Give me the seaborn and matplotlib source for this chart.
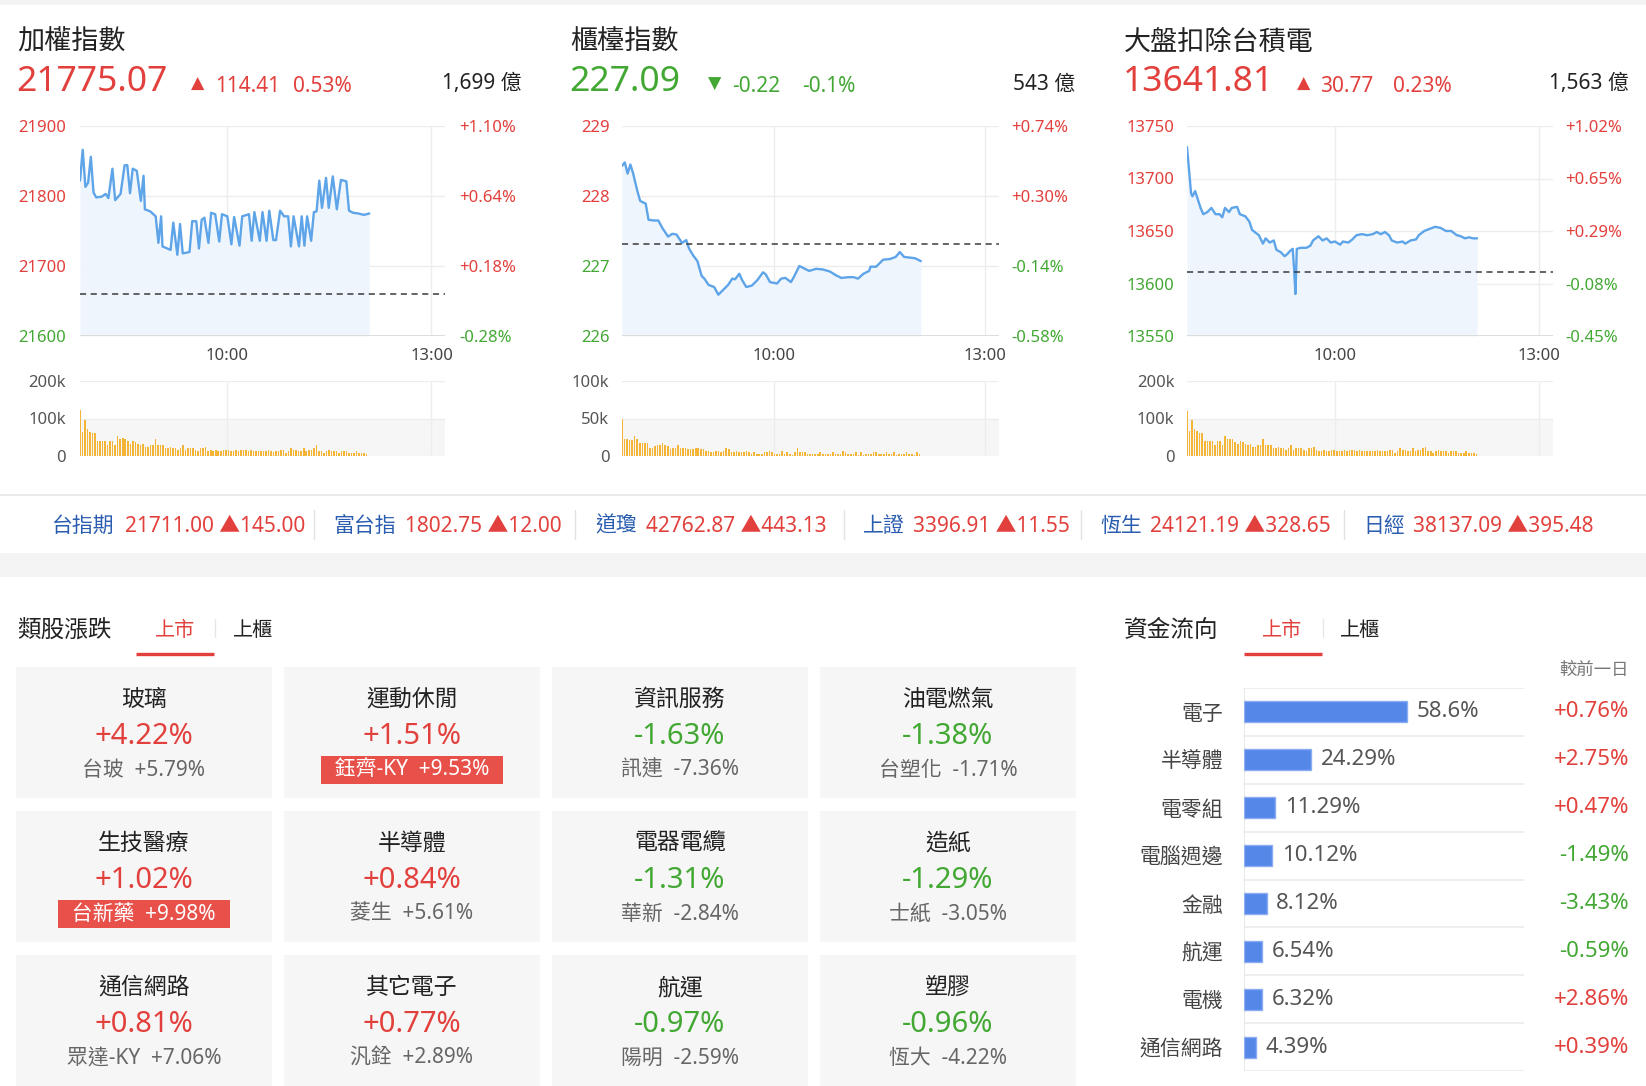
import numpy as np
import pandas as pd
import matplotlib
matplotlib.use('Agg')
import matplotlib.pyplot as plt
import matplotlib.transforms as mtransforms
from matplotlib.patches import Rectangle
import seaborn as sns

# ---------------- DATA ----------------
index_names = ['加權指數', '櫃檯指數', '大盤扣除台積電']
index_values = ['21775.07', '227.09', '13641.81']
index_change = ['114.41', '-0.22', '30.77']
index_pct = ['0.53%', '-0.1%', '0.23%']
index_turnover = ['1,699 億', '543 億', '1,563 億']
index_up = [True, False, True]
prev_close = [21660.66, 227.31, 13611.04]

time_labels = ['10:00', '13:00']

twii_yticks = [21600, 21700, 21800, 21900]
otc_yticks = [226, 227, 228, 229]
ex_yticks = [13550, 13600, 13650, 13700, 13750]

twii_t = [0, 2, 4, 6, 8, 10, 12, 16, 19, 21, 24, 26, 30, 33, 35, 37, 39, 42, 45, 47,
          48, 52, 56, 58, 60, 61, 67, 69, 72, 74, 76, 81, 83, 86, 88, 90, 92, 95, 97, 100,
          103, 105, 109, 112, 114, 118, 120, 125, 127, 129, 133, 135, 138, 140, 143, 145, 148, 151, 154, 156,
          158, 162, 164, 166, 168, 171, 173, 175, 177, 179, 182, 184, 187, 190, 193, 197, 199, 202, 206, 210, 214]
twii_v = [21822, 21866, 21813, 21819, 21856, 21805, 21798, 21799, 21803, 21797, 21839, 21794, 21803, 21844, 21844, 21804, 21839, 21836, 21793, 21829,
          21781, 21778, 21771, 21733, 21771, 21728, 21723, 21762, 21716, 21760, 21718, 21720, 21764, 21764, 21725, 21766, 21769, 21733, 21776, 21774,
          21735, 21774, 21771, 21731, 21770, 21729, 21771, 21774, 21736, 21777, 21736, 21777, 21736, 21779, 21737, 21737, 21779, 21771, 21771, 21728,
          21771, 21728, 21771, 21729, 21771, 21736, 21777, 21778, 21822, 21783, 21826, 21783, 21828, 21781, 21823, 21821, 21779, 21776, 21775, 21773, 21775]

otc_t = [0, 2, 4, 6, 8, 11, 13, 17, 19, 23, 26, 29, 33, 36, 39, 43, 46, 48, 51, 54,
         57, 59, 62, 66, 69, 73, 76, 79, 81, 84, 86, 89, 93, 97, 101, 103, 106, 111, 114, 117,
         121, 123, 127, 131, 134, 139, 144, 149, 153, 157, 162, 166, 169, 173, 177, 178, 182, 187, 192, 196,
         199, 202, 206, 210, 214]
otc_v = [228.43, 228.48, 228.32, 228.45, 228.32, 228.07, 227.93, 227.89, 227.66, 227.65, 227.65, 227.54, 227.42, 227.46, 227.45, 227.33, 227.37, 227.25, 227.15, 227.07,
         226.86, 226.82, 226.73, 226.70, 226.59, 226.67, 226.73, 226.82, 226.81, 226.89, 226.80, 226.70, 226.72, 226.80, 226.91, 226.88, 226.77, 226.75, 226.82, 226.83,
         226.77, 226.84, 227.00, 226.96, 226.93, 226.96, 226.95, 226.92, 226.87, 226.83, 226.84, 226.84, 226.82, 226.89, 226.93, 226.99, 226.99, 227.09, 227.10, 227.13,
         227.20, 227.13, 227.12, 227.11, 227.07]

ex_t = [0, 2, 3, 4, 6, 8, 10, 12, 15, 18, 21, 24, 26, 28, 31, 33, 37, 39, 43, 46,
        48, 51, 53, 56, 58, 61, 64, 66, 69, 72, 74, 76, 78, 79, 80, 81, 84, 88, 91, 93,
        97, 100, 103, 106, 109, 113, 115, 119, 122, 125, 129, 133, 137, 140, 143, 146, 149, 151, 155, 159,
        161, 165, 169, 171, 175, 179, 183, 187, 191, 195, 199, 202, 205, 208, 211, 214]
ex_v = [13730, 13701, 13686, 13683, 13688, 13680, 13672, 13666, 13668, 13672, 13666, 13666, 13663, 13672, 13668, 13672, 13673, 13666, 13664, 13659,
        13651, 13648, 13646, 13638, 13643, 13639, 13641, 13632, 13630, 13626, 13628, 13631, 13633, 13614, 13590, 13633, 13634, 13634, 13636, 13641,
        13645, 13641, 13643, 13639, 13640, 13637, 13640, 13639, 13642, 13646, 13647, 13646, 13647, 13649, 13647, 13649, 13646, 13641, 13639, 13640,
        13638, 13641, 13642, 13646, 13650, 13652, 13654, 13653, 13650, 13650, 13646, 13645, 13643, 13644, 13643, 13643]

# volume in thousands (k)
twii_vol = [122, 65, 95, 73, 65, 61, 61, 41, 41, 41, 41, 30, 41, 41, 30, 54, 45, 49, 45, 41,
            33, 41, 38, 33, 30, 33, 25, 25, 30, 30, 46, 30, 30, 30, 22, 22, 24, 22, 22, 17,
            22, 30, 17, 22, 22, 22, 17, 14, 22, 22, 25, 14, 17, 14, 17, 14, 14, 17, 17, 17,
            14, 14, 17, 14, 17, 17, 17, 14, 17, 14, 14, 14, 14, 14, 14, 17, 14, 10, 14, 14,
            17, 17, 9, 14, 22, 17, 17, 14, 14, 22, 14, 17, 17, 22, 30, 14, 14, 9, 14, 17,
            14, 14, 14, 9, 14, 14, 14, 9, 9, 9, 14, 9, 9, 9, 5]
otc_vol = [50, 23, 23, 21, 21, 27, 23, 17, 17, 17, 17, 11, 11, 13, 15, 15, 17, 15, 13, 9,
           11, 11, 15, 11, 11, 11, 9, 9, 9, 11, 11, 9, 9, 7, 7, 5, 5, 7, 7, 5,
           7, 11, 9, 5, 5, 7, 5, 5, 5, 7, 5, 3, 5, 3, 3, 3, 5, 5, 7, 5,
           3, 3, 3, 7, 3, 5, 3, 1, 5, 11, 5, 5, 5, 3, 3, 3, 3, 3, 5, 3,
           3, 3, 3, 5, 3, 3, 3, 7, 5, 3, 3, 3, 5, 1, 5, 1, 3, 3, 3, 5,
           5, 3, 3, 3, 5, 3, 3, 5, 1, 3, 3, 3, 5, 3, 3, 1, 5, 3]
ex_vol = [119, 66, 95, 73, 66, 62, 62, 41, 41, 41, 41, 30, 41, 41, 30, 54, 45, 45, 45, 38,
          33, 41, 38, 33, 30, 33, 25, 25, 30, 30, 46, 30, 30, 30, 22, 22, 25, 22, 22, 17,
          22, 30, 17, 22, 22, 22, 17, 14, 22, 22, 25, 17, 14, 14, 17, 14, 14, 17, 17, 14,
          14, 14, 17, 14, 17, 17, 17, 14, 17, 14, 14, 14, 14, 14, 14, 17, 14, 14, 14, 14,
          17, 17, 9, 14, 22, 17, 17, 14, 14, 22, 14, 17, 17, 22, 25, 14, 14, 9, 14, 17,
          14, 14, 14, 9, 14, 14, 14, 9, 9, 9, 14, 9, 9, 9, 5]

vol_ticks_twii = [0, 100, 200]
vol_ticks_otc = [0, 50, 100]

ticker_names = ['台指期', '富台指', '道瓊', '上證', '恆生', '日經']
ticker_vals = ['21711.00', '1802.75', '42762.87', '3396.91', '24121.19', '38137.09']
ticker_chg = ['145.00', '12.00', '443.13', '11.55', '328.65', '395.48']

sector_names = ['玻璃', '運動休閒', '資訊服務', '油電燃氣',
                '生技醫療', '半導體', '電器電纜', '造紙',
                '通信網路', '其它電子', '航運', '塑膠']
sector_pct = [4.22, 1.51, -1.63, -1.38,
              1.02, 0.84, -1.31, -1.29,
              0.81, 0.77, -0.97, -0.96]
leader_names = ['台玻', '鈺齊-KY', '訊連', '台塑化',
                '台新藥', '菱生', '華新', '士紙',
                '眾達-KY', '汎銓', '陽明', '恆大']
leader_pct = [5.79, 9.53, -7.36, -1.71,
              9.98, 5.61, -2.84, -3.05,
              7.06, 2.89, -2.59, -4.22]
leader_limit_up = [False, True, False, False,
                   True, False, False, False,
                   False, False, False, False]

flow_sectors = ['電子', '半導體', '電零組', '電腦週邊', '金融', '航運', '電機', '通信網路']
flow_share = [58.6, 24.29, 11.29, 10.12, 8.12, 6.54, 6.32, 4.39]
flow_change = [0.76, 2.75, 0.47, -1.49, -3.43, -0.59, 2.86, 0.39]

# ---------------- STYLE ----------------
sns.set_theme(style='white')
plt.rcParams['font.family'] = ['Noto Sans', 'Noto Sans CJK TC', 'DejaVu Sans']
plt.rcParams['axes.unicode_minus'] = False

RED = '#e2403c'
GREEN = '#42a833'
LINE = '#5ea4e8'
FILL = '#eff5fc'
VOL = '#f4b537'
DARK = '#222222'
GRAY = '#666666'
GRID = '#ededed'
TBLUE = '#2a5db0'
BAR = '#5587e9'

W, H = 1646, 1086
fig = plt.figure(figsize=(W / 100, H / 100), dpi=100)
fig.patch.set_facecolor('white')


def add_ax(x0, y0, x1, y1, z=2):
    a = fig.add_axes([x0 / W, 1 - y1 / H, (x1 - x0) / W, (y1 - y0) / H], zorder=z)
    a.set_facecolor('none')
    return a


canvas = fig.add_axes([0, 0, 1, 1], zorder=0)
canvas.set_xlim(0, W)
canvas.set_ylim(H, 0)
canvas.axis('off')


def ctext(x, y, s, **kw):
    kw.setdefault('va', 'center')
    canvas.text(x, y + 3, s, **kw)


# top shadow
canvas.add_patch(Rectangle((0, 0), W, 5, color='#f3f3f3', lw=0))

# ---------------- INDEX CHARTS ----------------
TIME_TICKS = [109, 260]
charts = [
    dict(box=(80, 445), t=twii_t, v=twii_v, vol=twii_vol, yt=twii_yticks, vt=vol_ticks_twii,
         lpad=10, rpad=10, tx=17, tri=198, chx=215, pcx=293, tox=522, vend=212),
    dict(box=(622, 999), t=otc_t, v=otc_v, vol=otc_vol, yt=otc_yticks, vt=vol_ticks_otc,
         lpad=9, rpad=9, tx=570, tri=715, chx=732, pcx=802, tox=1075, vend=213),
    dict(box=(1187, 1553), t=ex_t, v=ex_v, vol=ex_vol, yt=ex_yticks, vt=vol_ticks_twii,
         lpad=9, rpad=9, tx=1124, tri=1304, chx=1320, pcx=1393, tox=1629, vend=213.5),
]

for i, c in enumerate(charts):
    col = RED if index_up[i] else GREEN
    ctext(c['tx'], 40, index_names[i], fontsize=19.5, color=DARK, ha='left')
    ctext(c['tx'] - 1, 79, index_values[i], fontsize=25.5, color=col, ha='left')
    ctext(c['tri'], 81, '▲' if index_up[i] else '▼', fontsize=12.5, color=col, ha='center',
          family='DejaVu Sans')
    ctext(c['chx'], 83, index_change[i], fontsize=15, color=col, ha='left')
    ctext(c['pcx'], 83, index_pct[i], fontsize=15, color=col, ha='left')
    ctext(c['tox'], 81, index_turnover[i], fontsize=15, color=DARK, ha='right')

    x0, x1 = c['box']
    ax = add_ax(x0, 126, x1, 336)
    yt = c['yt']
    prev = prev_close[i]
    ax.fill_between(c['t'], c['v'], yt[0], color=FILL, lw=0, zorder=1)
    df = pd.DataFrame({'t': c['t'], 'v': c['v']})
    sns.lineplot(data=df, x='t', y='v', ax=ax, color=LINE, lw=1.7, zorder=3)
    ax.axhline(prev, color='#3a3a3a', lw=1.1, ls=(0, (4, 3)), zorder=4)
    ax.set_xlim(0, 270)
    ax.set_ylim(yt[0], yt[-1])
    ax.set_yticks(yt)
    ax.set_yticklabels([str(y) for y in yt])
    for lab, y in zip(ax.get_yticklabels(), yt):
        lab.set_color(RED if y > prev else GREEN)
    ax.set_xticks(TIME_TICKS)
    ax.set_xticklabels(time_labels)
    ax.grid(True, color=GRID, lw=1, zorder=0)
    for s in ax.spines.values():
        s.set_visible(False)
    ax.axhline(yt[0], color='#dadada', lw=1.3, zorder=2)
    ax.tick_params(axis='y', length=0, pad=c['lpad'], labelsize=12)
    ax.tick_params(axis='x', length=5, width=1, color='#e4e4e4', pad=4, labelsize=12, labelcolor='#444444')
    ax.set_xlabel('')
    ax.set_ylabel('')

    ax2 = ax.twinx()
    ax2.set_ylim(yt[0], yt[-1])
    ax2.set_yticks(yt)
    ax2.set_yticklabels([f'{(y / prev - 1) * 100:+.2f}%' for y in yt])
    for lab, y in zip(ax2.get_yticklabels(), yt):
        lab.set_color(RED if y > prev else GREEN)
    ax2.tick_params(axis='y', length=0, pad=c['rpad'], labelsize=12)
    for s in ax2.spines.values():
        s.set_visible(False)
    ax2.grid(False)

    # volume
    axv = add_ax(x0, 381, x1, 456)
    vt = c['vt']
    axv.axhspan(0, vt[1], color='#f6f6f6', lw=0, zorder=0)
    xs = np.linspace(0, c['vend'], len(c['vol']))
    sns.barplot(x=xs, y=c['vol'], native_scale=True, color=VOL, width=0.62, saturation=1,
                errorbar=None, linewidth=0, ax=axv, zorder=3)
    axv.set_xlim(0, 270)
    axv.set_ylim(0, vt[-1])
    axv.set_yticks(vt)
    axv.set_yticklabels(['0' if v == 0 else f'{v}k' for v in vt])
    axv.set_xticks(TIME_TICKS)
    axv.tick_params(axis='x', length=0, labelbottom=False)
    axv.tick_params(axis='y', length=0, pad=c['lpad'], labelsize=12, labelcolor='#555555')
    axv.grid(True, color=GRID, lw=1, zorder=0)
    for s in axv.spines.values():
        s.set_visible(False)
    axv.set_xlabel('')
    axv.set_ylabel('')

# ---------------- TICKER ROW ----------------
canvas.plot([0, W], [495, 495], color='#e6e6e6', lw=1.2)
name_x = [52, 333, 595, 863, 1100, 1363]
val_x = [125, 405, 646, 913, 1150, 1413]
sep_x = [314, 575, 844, 1081, 1344]
for nx, vx, n, v, ch in zip(name_x, val_x, ticker_names, ticker_vals, ticker_chg):
    ctext(nx, 523, n, fontsize=15, color=TBLUE, ha='left')
    ctext(vx, 523, f'{v} ▲{ch}', fontsize=15, color=RED, ha='left')
for sx in sep_x:
    canvas.plot([sx, sx], [510, 539], color='#e2e2e2', lw=1)
canvas.add_patch(Rectangle((0, 553), W, 24, color='#f4f4f4', lw=0))

# ---------------- SECTOR TILES ----------------
ctext(17, 628, '類股漲跌', fontsize=17, color=DARK, ha='left')
ctext(175, 628, '上市', fontsize=14.5, color=RED, ha='center')
ctext(253, 628, '上櫃', fontsize=14.5, color=DARK, ha='center')
canvas.plot([136, 214], [654, 654], color=RED, lw=2.4, solid_capstyle='butt')
canvas.plot([215, 215], [619, 637], color='#e6e6e6', lw=1)

col_x = [16, 284, 552, 820]
row_y = [667, 811, 955]
TW, TH = 256, 131
for k in range(12):
    r, cc = divmod(k, 4)
    tx, ty = col_x[cc], row_y[r]
    canvas.add_patch(Rectangle((tx, ty), TW, TH, color='#f6f6f6', lw=0))
    cx = tx + TW / 2
    ctext(cx, ty + 30, sector_names[k], fontsize=16.5, color=DARK, ha='center')
    pc = sector_pct[k]
    ctext(cx, ty + 66, f'{pc:+.2f}%', fontsize=21, color=RED if pc > 0 else GREEN, ha='center')
    if leader_limit_up[k]:
        sub = f'  {leader_names[k]}  {leader_pct[k]:+.2f}%  '
        ctext(cx, ty + 100, sub, fontsize=15, color='white', ha='center',
              bbox=dict(boxstyle='square,pad=0.16', fc='#e8504a', ec='none'))
    else:
        sub = f'{leader_names[k]}  {leader_pct[k]:+.2f}%'
        ctext(cx, ty + 100, sub, fontsize=15, color=GRAY, ha='center')

# ---------------- FUND FLOW ----------------
ctext(1124, 628, '資金流向', fontsize=17, color=DARK, ha='left')
ctext(1282, 628, '上市', fontsize=14.5, color=RED, ha='center')
ctext(1360, 628, '上櫃', fontsize=14.5, color=DARK, ha='center')
canvas.plot([1244, 1322], [654, 654], color=RED, lw=2.4, solid_capstyle='butt')
canvas.plot([1323, 1323], [619, 637], color='#e6e6e6', lw=1)
ctext(1629, 667, '較前一日', fontsize=12.5, color='#777777', ha='right')

axf = add_ax(1244, 688, 1524, 1071)
sns.barplot(x=flow_share, y=flow_sectors, orient='h', color=BAR, width=0.44, saturation=1,
            edgecolor='#8cadf1', linewidth=1, errorbar=None, ax=axf, zorder=3)
axf.set_xlim(0, 100.8)
axf.set_ylim(7.5, -0.5)
for k in range(9):
    axf.axhline(k - 0.5, color='#ededed', lw=1.3, zorder=1)
axf.axvline(0, color='#e6e6e6', lw=1.3, zorder=1)
axf.set_xticks([])
axf.tick_params(axis='y', length=0, pad=15, labelsize=15, labelcolor='#444444')
for s in axf.spines.values():
    s.set_visible(False)
axf.set_xlabel('')
axf.set_ylabel('')
blend = mtransforms.blended_transform_factory(canvas.transData, axf.transData)
for k, (s, ch) in enumerate(zip(flow_share, flow_change)):
    axf.annotate(f'{s:g}%', (s, k), xytext=(7, 0), textcoords='offset points',
                 va='center', ha='left', fontsize=16, color='#555555')
    axf.text(1629, k, f'{ch:+.2f}%', transform=blend, va='center', ha='right',
             fontsize=16, color=RED if ch > 0 else GREEN)

fig.savefig('out.png', dpi=100, facecolor='white')
